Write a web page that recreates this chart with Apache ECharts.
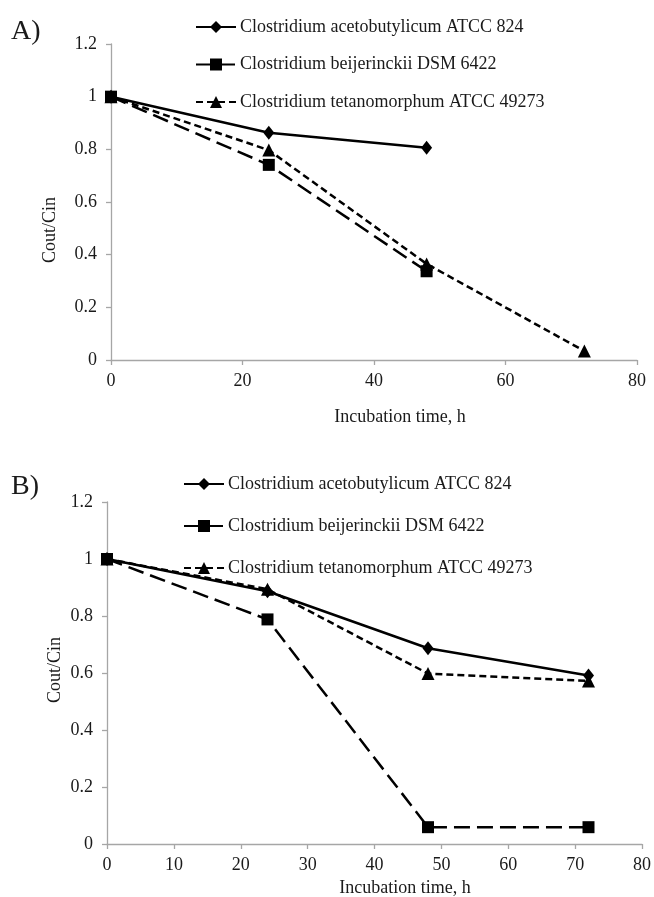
<!DOCTYPE html>
<html>
<head>
<meta charset="utf-8">
<script src="https://cdn.jsdelivr.net/npm/echarts@6/dist/echarts.min.js"></script>
<style>
html,body{margin:0;padding:0;background:#fff;}
#chart{width:654px;height:897px;}
</style>
</head>
<body>
<div id="chart"></div>
<script>
// ---- Data ----
var seriesNames = ['Clostridium acetobutylicum ATCC 824', 'Clostridium beijerinckii DSM 6422', 'Clostridium tetanomorphum ATCC 49273'];
// Panel A
var timesA_aceto = [0, 24, 48];
var valuesA_aceto = [1, 0.863, 0.806];
var timesA_beij = [0, 24, 48];
var valuesA_beij = [1, 0.741, 0.337];
var timesA_tet = [0, 24, 48, 72];
var valuesA_tet = [1, 0.797, 0.365, 0.034];
// Panel B
var timesB = [0, 24, 48, 72];
var valuesB_aceto = [1, 0.887, 0.687, 0.591];
var valuesB_beij = [1, 0.788, 0.059, 0.059];
var valuesB_tet = [1, 0.894, 0.598, 0.572];
var xTitle = 'Incubation time, h';
var yTitle = 'Cout/Cin';

function pairs(xs, ys){ return xs.map(function(x,i){ return [x, ys[i]]; }); }

var FONT = '"Liberation Serif", "Times New Roman", serif';
var TXT = '#1a1a1a';
var AX = '#a6a6a6';

var styles = [
  {symbol:'diamond', symbolSize:[11,14], lineType:'solid'},
  {symbol:'rect', symbolSize:12, lineType:[16,7]},
  {symbol:'triangle', symbolSize:13, lineType:[7,4]}
];

function mkSeries(name, idx, data, axisIdx){
  var s = styles[idx];
  return {
    type:'line', name:name, xAxisIndex:axisIdx, yAxisIndex:axisIdx,
    data:data, symbol:s.symbol, symbolSize:s.symbolSize,
    showAllSymbol:true, animation:false,
    lineStyle:{color:'#000', width:2.5, type:s.lineType},
    itemStyle:{color:'#000'},
    z: 3 - idx
  };
}

function xAxisCfg(grid, interval){
  return {
    type:'value', gridIndex:grid, min:0, max:80, interval:interval,
    axisLine:{show:true, lineStyle:{color:AX, width:1.3}},
    axisTick:{show:true, length:5, lineStyle:{color:AX, width:1.3}},
    splitLine:{show:false},
    axisLabel:{color:TXT, fontFamily:FONT, fontSize:18, margin:12}
  };
}
function yAxisCfg(grid){
  return {
    type:'value', gridIndex:grid, min:0, max:1.2, interval:0.2,
    axisLine:{show:true, lineStyle:{color:AX, width:1.3}},
    axisTick:{show:true, length:5, lineStyle:{color:AX, width:1.3}},
    splitLine:{show:false},
    axisLabel:{color:TXT, fontFamily:FONT, fontSize:18, margin:14}
  };
}
function legendCfg(left, top, gap){
  return {
    orient:'vertical', left:left, top:top, itemGap:gap, padding:0,
    itemWidth:40, itemHeight:15,
    data:seriesNames,
    textStyle:{color:TXT, fontFamily:FONT, fontSize:18, lineHeight:20, padding:[0,0,0,-1]}
  };
}

var chart = echarts.init(document.getElementById('chart'), null, {renderer:'canvas'});
chart.setOption({
  animation:false,
  backgroundColor:'#fff',
  grid:[
    {left:111, top:44, width:526, height:316},
    {left:107, top:502, width:536, height:342}
  ],
  xAxis:[xAxisCfg(0,20), xAxisCfg(1,10)],
  yAxis:[yAxisCfg(0), yAxisCfg(1)],
  legend:[legendCfg(195, 17, 17.5), legendCfg(183, 474, 22)],
  graphic:[
    {type:'text', left:11, top:18, style:{text:'A)', font:'28px ' + FONT, fill:TXT}},
    {type:'text', left:11, top:473, style:{text:'B)', font:'28px ' + FONT, fill:TXT}},
    {type:'text', x:400, y:417, style:{text:xTitle, font:'18px ' + FONT, fill:TXT, align:'center', verticalAlign:'middle'}},
    {type:'text', x:405, y:888, style:{text:xTitle, font:'18px ' + FONT, fill:TXT, align:'center', verticalAlign:'middle'}},
    {type:'text', x:50, y:230, rotation:Math.PI/2, style:{text:yTitle, font:'18px ' + FONT, fill:TXT, align:'center', verticalAlign:'middle'}},
    {type:'text', x:55, y:670, rotation:Math.PI/2, style:{text:yTitle, font:'18px ' + FONT, fill:TXT, align:'center', verticalAlign:'middle'}}
  ],
  series:[
    mkSeries(seriesNames[0], 0, pairs(timesA_aceto, valuesA_aceto), 0),
    mkSeries(seriesNames[1], 1, pairs(timesA_beij, valuesA_beij), 0),
    mkSeries(seriesNames[2], 2, pairs(timesA_tet, valuesA_tet), 0),
    mkSeries(seriesNames[0], 0, pairs(timesB, valuesB_aceto), 1),
    mkSeries(seriesNames[1], 1, pairs(timesB, valuesB_beij), 1),
    mkSeries(seriesNames[2], 2, pairs(timesB, valuesB_tet), 1)
  ]
});
</script>
</body>
</html>
